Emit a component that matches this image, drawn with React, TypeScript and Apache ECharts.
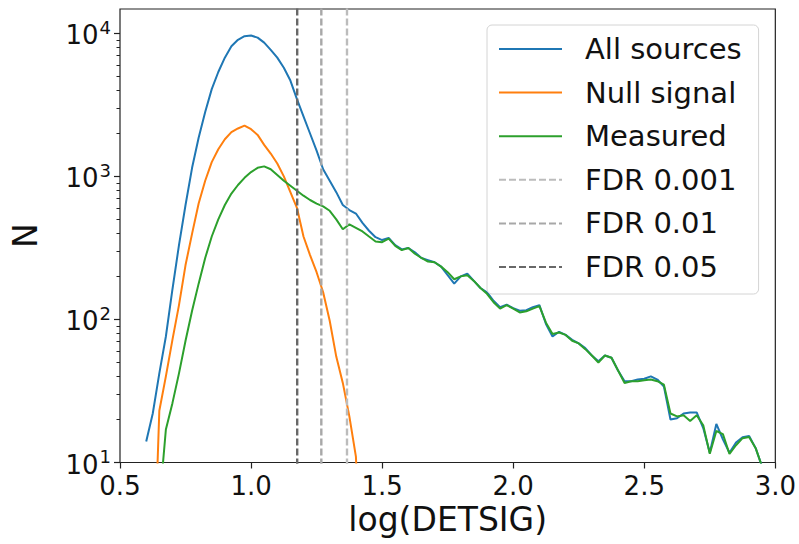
import React, { useEffect, useRef } from 'react';
import * as echarts from 'echarts';

const FONT = 'DejaVu Sans';

// bin positions, log(DETSIG)
const xs = [
  0.6, 0.625, 0.65, 0.675, 0.7, 0.725, 0.75, 0.775, 0.8, 0.825, 0.85, 0.875, 0.9, 0.925, 0.95, 0.975,
  1.0, 1.025, 1.05, 1.075, 1.1, 1.125, 1.15, 1.175, 1.2, 1.225, 1.25, 1.275, 1.3, 1.325, 1.35, 1.375,
  1.4, 1.425, 1.45, 1.475, 1.5, 1.525, 1.55, 1.575, 1.6, 1.625, 1.65, 1.675, 1.7, 1.725, 1.75, 1.775,
  1.8, 1.825, 1.85, 1.875, 1.9, 1.925, 1.95, 1.975, 2.0, 2.025, 2.05, 2.075, 2.1, 2.125, 2.15, 2.175,
  2.2, 2.225, 2.25, 2.275, 2.3, 2.325, 2.35, 2.375, 2.4, 2.425, 2.45, 2.475, 2.5, 2.525, 2.55, 2.575,
  2.6, 2.625, 2.65, 2.675, 2.7, 2.725, 2.75, 2.775, 2.8, 2.825, 2.85, 2.875, 2.9, 2.925, 2.95,
];

const allSources = [
  14, 22, 42, 76, 162, 331, 631, 1148, 1862, 2818, 4074, 5370, 6761, 8128, 9016, 9550,
  9661, 9333, 8610, 7674, 6761, 5754, 4677, 3467, 2630, 1995, 1514, 1122, 933, 776, 631, 582,
  550, 473, 417, 376, 359, 372, 331, 309, 316, 295, 269, 260, 251, 234, 204, 178,
  200, 209, 186, 166, 155, 135, 122, 127, 120, 115, 116, 122, 126, 93, 76, 82,
  78, 72, 68, 63, 56, 51, 56, 54, 44, 37, 37, 38, 38.5, 40, 38, 34,
  20, 20.4, 22, 22.4, 22.4, 17.4, 11.7, 18.6, 14.5, 11.7, 13.8, 15, 15.3, 12.6, 9.3,
];

const nullSignal = [
  null, 1, 23, 40, 72, 126, 240, 398, 646, 933, 1259, 1549, 1820, 2042, 2163, 2265,
  2138, 1950, 1660, 1445, 1230, 1000, 776, 603, 380, 282, 214, 155, 98, 55, 36, 21,
  11, 1, null, null, null, null, null, null, null, null, null, null, null, null, null, null,
  null, null, null, null, null, null, null, null, null, null, null, null, null, null, null, null,
  null, null, null, null, null, null, null, null, null, null, null, null, null, null, null, null,
  null, null, null, null, null, null, null, null, null, null, null, null, null, null, null,
];

const measured = [
  null, null, 5, 17, 26, 42, 71, 115, 178, 269, 380, 501, 631, 759, 871, 977,
  1072, 1148, 1175, 1122, 1023, 933, 861, 794, 733, 684, 646, 617, 575, 501, 427, 462,
  437, 412, 380, 351, 347, 367, 327, 305, 316, 288, 269, 254, 251, 234, 214, 191,
  200, 204, 186, 166, 151, 132, 119, 126, 119, 112, 114, 119, 124, 95, 79, 81,
  78, 71, 68, 62, 56, 50, 56, 54, 44, 36, 37, 37, 37.6, 38, 37, 35,
  22, 21, 21.4, 19.5, 21.4, 18.2, 11.5, 16.6, 15.8, 11.5, 13.2, 14.8, 15.1, 12.6, 9.3,
];

const curveNames = ['All sources', 'Null signal', 'Measured'];
const curveColors = ['#1f77b4', '#ff7f0e', '#2ca02c'];

const fdrNames = ['FDR 0.001', 'FDR 0.01', 'FDR 0.05'];
const fdrValues = [1.366, 1.268, 1.176];
const fdrColors = ['#bcbcbc', '#a8a8a8', '#686868'];

const xTickValues = [0.5, 1.0, 1.5, 2.0, 2.5, 3.0];
const yMajorTicks = [10, 100, 1000, 10000];
const yMinorTicks = [
  20, 30, 40, 50, 60, 70, 80, 90,
  200, 300, 400, 500, 600, 700, 800, 900,
  2000, 3000, 4000, 5000, 6000, 7000, 8000, 9000,
];

const Y_MIN = 10;
const Y_MAX = 14800;

function pairs(values: (number | null)[]) {
  const out: [number, number][] = [];
  xs.forEach((x, i) => {
    const v = values[i];
    if (v !== null && v !== undefined) out.push([x, v]);
  });
  return out;
}

export default function App() {
  const ref = useRef<HTMLDivElement>(null);

  useEffect(() => {
    if (!ref.current) return;
    const chart = echarts.init(ref.current, undefined, { renderer: 'svg' });
    const curves = [allSources, nullSignal, measured];

    const option: any = {
      animation: false,
      backgroundColor: '#ffffff',
      textStyle: { fontFamily: FONT },
      grid: {
        left: 120,
        right: 21,
        top: 9,
        bottom: 81.5,
        show: true,
        borderColor: '#222',
        borderWidth: 1.2,
        backgroundColor: 'transparent',
      },
      legend: {
        orient: 'vertical',
        left: 487,
        top: 25,
        data: [...curveNames, ...fdrNames],
        itemWidth: 63,
        itemHeight: 14,
        itemGap: 13.6,
        padding: [9, 17, 12, 11],
        backgroundColor: 'rgba(255,255,255,0.85)',
        borderColor: '#d4d4d4',
        borderWidth: 1,
        borderRadius: 5,
        itemStyle: { opacity: 0 },
        textStyle: {
          fontFamily: FONT,
          fontSize: 29,
          color: '#111',
          lineHeight: 30,
          padding: [0, 0, 0, 18],
        },
      },
      xAxis: {
        type: 'value',
        min: 0.5,
        max: 3.0,
        interval: 0.5,
        name: 'log(DETSIG)',
        nameLocation: 'middle',
        nameGap: 40,
        nameTextStyle: { fontFamily: FONT, fontSize: 33, color: '#111' },
        axisLine: { show: false },
        splitLine: { show: false },
        axisTick: {
          show: true,
          length: 6,
          customValues: xTickValues,
          lineStyle: { color: '#222', width: 1.2 },
        },
        axisLabel: {
          fontFamily: FONT,
          fontSize: 26,
          color: '#111',
          margin: 10,
          customValues: xTickValues,
          formatter: (v: number) => v.toFixed(1),
        },
      },
      yAxis: [
        {
          type: 'log',
          logBase: 10,
          min: Y_MIN,
          max: Y_MAX,
          position: 'left',
          name: 'N',
          nameLocation: 'middle',
          nameGap: 78,
          nameTextStyle: { fontFamily: FONT, fontSize: 33, color: '#111' },
          axisLine: { show: false },
          splitLine: { show: false },
          axisTick: {
            show: true,
            length: 6,
            customValues: yMajorTicks,
            lineStyle: { color: '#222', width: 1.2 },
          },
          axisLabel: {
            customValues: yMajorTicks,
            margin: 9,
            formatter: (v: number) => {
              const e = Math.round(Math.log10(v));
              return '{b|10}{s|' + e + '}';
            },
            rich: {
              b: { fontFamily: FONT, fontSize: 26, color: '#111', lineHeight: 30, verticalAlign: 'bottom' },
              s: { fontFamily: FONT, fontSize: 18, color: '#111', lineHeight: 30, verticalAlign: 'top', padding: [0, 0, 8, 1] },
            },
          },
        },
        {
          type: 'log',
          logBase: 10,
          min: Y_MIN,
          max: Y_MAX,
          position: 'left',
          axisLine: { show: false },
          splitLine: { show: false },
          axisLabel: { show: false },
          axisTick: {
            show: true,
            length: 3.5,
            customValues: yMinorTicks,
            lineStyle: { color: '#222', width: 1 },
          },
        },
      ],
      series: [
        ...curves.map((vals, i) => ({
          name: curveNames[i],
          type: 'line',
          xAxisIndex: 0,
          yAxisIndex: 0,
          data: pairs(vals),
          symbol: 'none',
          showSymbol: false,
          clip: true,
          lineStyle: { color: curveColors[i], width: 2 },
          itemStyle: { color: curveColors[i], opacity: 0 },
          z: 2 + i,
        })),
        ...fdrValues.map((x, i) => ({
          name: fdrNames[i],
          type: 'line',
          xAxisIndex: 0,
          yAxisIndex: 0,
          data: [
            [x, 1],
            [x, 1000000],
          ],
          symbol: 'none',
          showSymbol: false,
          clip: true,
          lineStyle: { color: fdrColors[i], width: 2.4, type: [7, 3] },
          itemStyle: { color: fdrColors[i], opacity: 0 },
          z: 6,
        })),
      ],
    };

    chart.setOption(option);
    return () => {
      chart.dispose();
    };
  }, []);

  return (
    <div
      ref={ref}
      style={{ position: 'fixed', left: 0, top: 0, width: 799, height: 544, background: '#fff' }}
    />
  );
}
